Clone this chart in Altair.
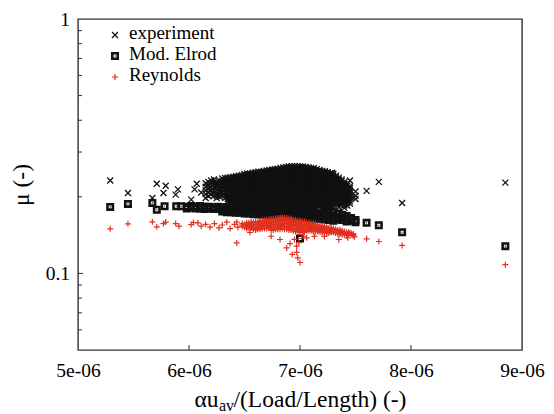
import altair as alt
import pandas as pd

# ---------------- data (x in units of 1e-6, mu dimensionless) ----------------
# experiment: isolated points
EXP_X = [5.29, 5.45, 5.71, 5.79, 5.77, 5.67, 5.88, 5.90, 6.02, 6.05, 6.07, 6.11,
         7.29, 7.40, 7.38, 7.42, 7.45, 7.47, 7.50, 7.60, 7.71, 7.92, 8.85]
EXP_MU = [0.232, 0.207, 0.225, 0.221, 0.207, 0.198, 0.204, 0.214, 0.195, 0.214, 0.225, 0.208,
          0.248, 0.220, 0.212, 0.205, 0.232, 0.199, 0.196, 0.211, 0.229, 0.189, 0.2275]
# experiment: dense cloud, read column by column
EXP_COL_X = [6.15, 6.20, 6.25, 6.30, 6.35, 6.40, 6.45, 6.50, 6.55, 6.60, 6.65, 6.70, 6.75, 6.80,
             6.85, 6.90, 6.95, 7.00, 7.05, 7.10, 7.15, 7.20, 7.25, 7.30, 7.35, 7.40, 7.45, 7.50]
EXP_COL_MU = [
    [0.226, 0.219, 0.212, 0.205, 0.198],
    [0.232, 0.225, 0.218, 0.211, 0.204],
    [0.228, 0.224, 0.220, 0.213, 0.206, 0.202, 0.198],
    [0.236, 0.231, 0.226, 0.220, 0.214, 0.208, 0.202],
    [0.238, 0.234, 0.230, 0.226, 0.222, 0.217, 0.212, 0.206, 0.200],
    [0.240, 0.236, 0.232, 0.228, 0.224, 0.220, 0.216, 0.212, 0.208, 0.204, 0.200, 0.196, 0.192],
    [0.242, 0.238, 0.234, 0.230, 0.226, 0.222, 0.218, 0.214, 0.210, 0.206, 0.202, 0.198, 0.194,
     0.190, 0.186],
    [0.246, 0.242, 0.238, 0.234, 0.230, 0.226, 0.222, 0.218, 0.214, 0.210, 0.206, 0.202, 0.198,
     0.194, 0.190, 0.186],
    [0.247, 0.243, 0.239, 0.235, 0.231, 0.227, 0.223, 0.219, 0.215, 0.211, 0.207, 0.203, 0.199,
     0.195, 0.191, 0.187, 0.183],
    [0.250, 0.246, 0.242, 0.238, 0.234, 0.230, 0.226, 0.222, 0.218, 0.214, 0.210, 0.206, 0.202,
     0.198, 0.194, 0.190, 0.186, 0.182],
    [0.251, 0.247, 0.243, 0.239, 0.235, 0.231, 0.227, 0.223, 0.219, 0.215, 0.211, 0.207, 0.203,
     0.199, 0.195, 0.191, 0.187, 0.183, 0.180],
    [0.254, 0.250, 0.246, 0.242, 0.238, 0.234, 0.230, 0.226, 0.222, 0.218, 0.214, 0.210, 0.206,
     0.202, 0.198, 0.194, 0.190, 0.186, 0.182, 0.179],
    [0.256, 0.252, 0.248, 0.244, 0.240, 0.236, 0.232, 0.228, 0.224, 0.220, 0.216, 0.212, 0.208,
     0.204, 0.200, 0.196, 0.192, 0.188, 0.184, 0.180],
    [0.258, 0.254, 0.250, 0.246, 0.242, 0.238, 0.234, 0.230, 0.226, 0.222, 0.218, 0.214, 0.210,
     0.206, 0.202, 0.198, 0.194, 0.190, 0.186, 0.182, 0.178],
    [0.261, 0.257, 0.253, 0.249, 0.245, 0.241, 0.237, 0.233, 0.229, 0.225, 0.221, 0.217, 0.213,
     0.209, 0.205, 0.201, 0.197, 0.193, 0.189, 0.185, 0.181, 0.177],
    [0.263, 0.259, 0.255, 0.251, 0.247, 0.243, 0.239, 0.235, 0.231, 0.227, 0.223, 0.219, 0.215,
     0.211, 0.207, 0.203, 0.199, 0.195, 0.191, 0.187, 0.183, 0.179],
    [0.264, 0.260, 0.256, 0.252, 0.248, 0.244, 0.240, 0.236, 0.232, 0.228, 0.224, 0.220, 0.216,
     0.212, 0.208, 0.204, 0.200, 0.196, 0.192, 0.188, 0.184, 0.180, 0.176],
    [0.263, 0.259, 0.255, 0.251, 0.247, 0.243, 0.239, 0.235, 0.231, 0.227, 0.223, 0.219, 0.215,
     0.211, 0.207, 0.203, 0.199, 0.195, 0.191, 0.187, 0.183, 0.179, 0.175],
    [0.262, 0.258, 0.254, 0.250, 0.246, 0.242, 0.238, 0.234, 0.230, 0.226, 0.222, 0.218, 0.214,
     0.210, 0.206, 0.202, 0.198, 0.194, 0.190, 0.186, 0.182, 0.178],
    [0.260, 0.256, 0.252, 0.248, 0.244, 0.240, 0.236, 0.232, 0.228, 0.224, 0.220, 0.216, 0.212,
     0.208, 0.204, 0.200, 0.196, 0.192, 0.188, 0.184, 0.180, 0.177],
    [0.257, 0.253, 0.249, 0.245, 0.241, 0.237, 0.233, 0.229, 0.225, 0.221, 0.217, 0.213, 0.209,
     0.205, 0.201, 0.197, 0.193, 0.189, 0.185, 0.181],
    [0.253, 0.249, 0.245, 0.241, 0.237, 0.233, 0.229, 0.225, 0.221, 0.217, 0.213, 0.209, 0.205,
     0.201, 0.197, 0.193, 0.189, 0.185, 0.181],
    [0.250, 0.246, 0.242, 0.238, 0.234, 0.230, 0.226, 0.222, 0.218, 0.214, 0.210, 0.206, 0.202,
     0.198, 0.194, 0.190, 0.186, 0.183, 0.179],
    [0.246, 0.242, 0.238, 0.234, 0.230, 0.226, 0.222, 0.218, 0.214, 0.210, 0.206, 0.202, 0.198,
     0.194, 0.190, 0.186, 0.182],
    [0.238, 0.234, 0.230, 0.226, 0.222, 0.218, 0.214, 0.210, 0.206, 0.202, 0.198, 0.194, 0.190,
     0.186, 0.182],
    [0.229, 0.225, 0.221, 0.217, 0.213, 0.209, 0.205, 0.201, 0.197, 0.193, 0.189, 0.185, 0.181],
    [0.220, 0.216, 0.212, 0.208, 0.204, 0.200, 0.196, 0.192, 0.188],
    [0.210, 0.202],
]
# experiment: dense cloud, points read between the columns above
EXP_COL2_X = [6.175, 6.225, 6.275, 6.325, 6.375, 6.425, 6.475, 6.525, 6.575, 6.625, 6.675,
              6.725, 6.775, 6.825, 6.875, 6.925, 6.975, 7.025, 7.075, 7.125, 7.175, 7.225,
              7.275, 7.325, 7.375, 7.425]
EXP_COL2_MU = [
    [0.229, 0.222, 0.215, 0.208, 0.201],
    [0.234, 0.229, 0.224, 0.218, 0.212, 0.207, 0.202],
    [0.232, 0.227, 0.222, 0.216, 0.210, 0.205, 0.200],
    [0.237, 0.232, 0.228, 0.223, 0.218, 0.213, 0.208, 0.203, 0.198],
    [0.239, 0.235, 0.231, 0.227, 0.223, 0.219, 0.215, 0.210, 0.206, 0.202, 0.198],
    [0.241, 0.237, 0.233, 0.229, 0.225, 0.221, 0.217, 0.213, 0.209, 0.205, 0.201, 0.197, 0.193,
     0.189],
    [0.244, 0.240, 0.236, 0.232, 0.228, 0.224, 0.220, 0.216, 0.212, 0.208, 0.204, 0.200, 0.196,
     0.192, 0.188],
    [0.247, 0.243, 0.239, 0.235, 0.231, 0.227, 0.223, 0.219, 0.215, 0.211, 0.207, 0.203, 0.199,
     0.195, 0.191, 0.187],
    [0.249, 0.245, 0.241, 0.237, 0.233, 0.229, 0.225, 0.221, 0.217, 0.213, 0.209, 0.205, 0.201,
     0.197, 0.193, 0.189, 0.185],
    [0.251, 0.247, 0.243, 0.239, 0.235, 0.231, 0.227, 0.223, 0.219, 0.215, 0.211, 0.207, 0.203,
     0.199, 0.195, 0.191, 0.187, 0.183],
    [0.253, 0.249, 0.245, 0.241, 0.237, 0.233, 0.229, 0.225, 0.221, 0.217, 0.213, 0.209, 0.205,
     0.201, 0.197, 0.193, 0.189, 0.185, 0.181],
    [0.255, 0.251, 0.247, 0.243, 0.239, 0.235, 0.231, 0.227, 0.223, 0.219, 0.215, 0.211, 0.207,
     0.203, 0.199, 0.195, 0.191, 0.187, 0.183, 0.180],
    [0.257, 0.253, 0.249, 0.245, 0.241, 0.237, 0.233, 0.229, 0.225, 0.221, 0.217, 0.213, 0.209,
     0.205, 0.201, 0.197, 0.193, 0.189, 0.185, 0.181],
    [0.260, 0.256, 0.252, 0.248, 0.244, 0.240, 0.236, 0.232, 0.228, 0.224, 0.220, 0.216, 0.212,
     0.208, 0.204, 0.200, 0.196, 0.192, 0.188, 0.184, 0.180],
    [0.262, 0.258, 0.254, 0.250, 0.246, 0.242, 0.238, 0.234, 0.230, 0.226, 0.222, 0.218, 0.214,
     0.210, 0.206, 0.202, 0.198, 0.194, 0.190, 0.186, 0.182, 0.178],
    [0.264, 0.260, 0.256, 0.252, 0.248, 0.244, 0.240, 0.236, 0.232, 0.228, 0.224, 0.220, 0.216,
     0.212, 0.208, 0.204, 0.200, 0.196, 0.192, 0.188, 0.184, 0.181, 0.178],
    [0.264, 0.260, 0.256, 0.252, 0.248, 0.244, 0.240, 0.236, 0.232, 0.228, 0.224, 0.220, 0.216,
     0.212, 0.208, 0.204, 0.200, 0.196, 0.192, 0.188, 0.184, 0.180, 0.177],
    [0.263, 0.259, 0.255, 0.251, 0.247, 0.243, 0.239, 0.235, 0.231, 0.227, 0.223, 0.219, 0.215,
     0.211, 0.207, 0.203, 0.199, 0.195, 0.191, 0.187, 0.183, 0.180, 0.177],
    [0.261, 0.257, 0.253, 0.249, 0.245, 0.241, 0.237, 0.233, 0.229, 0.225, 0.221, 0.217, 0.213,
     0.209, 0.205, 0.201, 0.197, 0.193, 0.189, 0.185, 0.181, 0.178],
    [0.259, 0.255, 0.251, 0.247, 0.243, 0.239, 0.235, 0.231, 0.227, 0.223, 0.219, 0.215, 0.211,
     0.207, 0.203, 0.199, 0.195, 0.191, 0.187, 0.184, 0.181],
    [0.255, 0.251, 0.247, 0.243, 0.239, 0.235, 0.231, 0.227, 0.223, 0.219, 0.215, 0.211, 0.207,
     0.203, 0.199, 0.195, 0.191, 0.187, 0.183],
    [0.252, 0.248, 0.244, 0.240, 0.236, 0.232, 0.228, 0.224, 0.220, 0.216, 0.212, 0.208, 0.204,
     0.200, 0.196, 0.192, 0.188, 0.184, 0.180],
    [0.248, 0.244, 0.240, 0.236, 0.232, 0.228, 0.224, 0.220, 0.216, 0.212, 0.208, 0.204, 0.200,
     0.196, 0.192, 0.188, 0.184],
    [0.242, 0.238, 0.234, 0.230, 0.226, 0.222, 0.218, 0.214, 0.210, 0.206, 0.202, 0.198, 0.194,
     0.190, 0.186],
    [0.234, 0.230, 0.226, 0.222, 0.218, 0.214, 0.210, 0.206, 0.202, 0.198, 0.194, 0.190, 0.186],
    [0.225, 0.221, 0.217, 0.213, 0.209, 0.205, 0.201, 0.197, 0.193, 0.189, 0.185],
]
# experiment: lower edge of the cloud where it runs into the Elrod band
EXP_COL3_X = [6.35, 6.375, 6.40, 6.425, 6.45, 6.475, 6.50, 6.525, 6.55, 6.575, 6.60, 6.625,
              6.65, 6.675, 6.70, 6.725, 6.75, 6.775, 6.80, 6.825, 6.85, 6.875, 6.90, 6.925, 6.95]
EXP_COL3_MU = [
    [0.196, 0.192, 0.188], [0.194, 0.190, 0.186], [0.188, 0.184], [0.186, 0.182],
    [0.183, 0.180], [0.184, 0.180], [0.182, 0.179], [0.183, 0.179], [0.180, 0.177],
    [0.181, 0.177], [0.179, 0.176], [0.180, 0.176], [0.177], [0.178, 0.175], [0.176],
    [0.177, 0.174], [0.177, 0.174], [0.178, 0.174], [0.175], [0.177, 0.174], [0.174],
    [0.175], [0.176], [0.175], [0.173],
]

# Mod. Elrod: isolated points
ELR_X = [5.29, 5.45, 5.67, 5.71, 5.78, 5.885, 5.93, 7.00, 7.60, 7.71, 7.92, 8.85]
ELR_MU = [0.1826, 0.1876, 0.1893, 0.178, 0.1836, 0.1836, 0.1836, 0.1371, 0.158, 0.1547, 0.1452, 0.128]
# Mod. Elrod: dense band
ELR_COL_X = [5.98, 6.02, 6.06, 6.10, 6.14, 6.18, 6.22, 6.26, 6.30, 6.34, 6.38, 6.42, 6.46,
             6.50, 6.54, 6.58, 6.62, 6.66, 6.70, 6.74, 6.78, 6.82, 6.86, 6.90, 6.94, 6.98,
             7.02, 7.06, 7.10, 7.14, 7.18, 7.22, 7.26, 7.30, 7.34, 7.38, 7.42, 7.46, 7.50]
ELR_COL_MU = [
    [0.183, 0.180], [0.184, 0.181], [0.183, 0.180], [0.184, 0.180], [0.183, 0.179],
    [0.183, 0.180], [0.182, 0.179], [0.183, 0.179], [0.182, 0.178, 0.175],
    [0.182, 0.178, 0.174], [0.181, 0.177, 0.174], [0.181, 0.177, 0.173],
    [0.181, 0.177, 0.173], [0.180, 0.176, 0.172], [0.180, 0.176, 0.172],
    [0.179, 0.175, 0.171], [0.179, 0.175, 0.171], [0.178, 0.174, 0.170],
    [0.178, 0.174, 0.170], [0.177, 0.173, 0.169], [0.177, 0.173, 0.169],
    [0.176, 0.172, 0.168], [0.176, 0.172, 0.168], [0.175, 0.171, 0.167],
    [0.175, 0.171, 0.167], [0.174, 0.170, 0.166], [0.174, 0.170, 0.166],
    [0.173, 0.169, 0.165], [0.173, 0.169, 0.165], [0.172, 0.168, 0.164],
    [0.172, 0.168, 0.164], [0.176, 0.171, 0.167, 0.163], [0.175, 0.170, 0.166, 0.162],
    [0.174, 0.169, 0.165, 0.161], [0.172, 0.167, 0.163], [0.170, 0.166, 0.162],
    [0.168, 0.164, 0.160], [0.165, 0.161], [0.162, 0.159],
]

# Reynolds: isolated points
REY_X = [5.29, 5.45, 5.67, 5.71, 5.77, 5.79, 5.88, 5.91, 6.02, 6.04, 6.11,
         6.08, 6.15, 6.19, 6.23, 6.27, 6.30, 6.34, 6.37, 6.41, 6.44, 6.43,
         7.13, 7.22, 7.35, 7.43, 7.49, 7.60, 7.71, 7.92, 8.85,
         6.43, 6.55, 6.74, 6.82, 6.88, 6.97, 6.93, 6.98, 7.00, 6.97, 6.91, 6.95, 7.03, 6.99, 7.06]
REY_MU = [0.1497, 0.1566, 0.1595, 0.1525, 0.157, 0.1592, 0.157, 0.1533, 0.1556, 0.1585, 0.1533,
          0.158, 0.156, 0.152, 0.157, 0.151, 0.155, 0.159, 0.150, 0.156, 0.152, 0.159,
          0.1397, 0.1397, 0.1359, 0.138, 0.1393, 0.1368, 0.1335, 0.1288, 0.1082,
          0.1318, 0.1448, 0.140, 0.1359, 0.126, 0.128, 0.1187, 0.1152, 0.1104, 0.121, 0.131,
          0.136, 0.140, 0.132, 0.138]
# Reynolds: dense band
REY_COL_X = [6.48, 6.52, 6.56, 6.60, 6.64, 6.68, 6.72, 6.76, 6.80, 6.84, 6.88, 6.92, 6.96,
             7.00, 7.04, 7.08, 7.12, 7.16, 7.20, 7.24, 7.28, 7.32, 7.36, 7.40, 7.44, 7.48]
REY_COL_MU = [
    [0.157, 0.155, 0.153], [0.158, 0.156, 0.154, 0.152, 0.150], [0.159, 0.157, 0.155, 0.153, 0.151],
    [0.160, 0.158, 0.156, 0.154, 0.152, 0.150, 0.148],
    [0.161, 0.159, 0.157, 0.155, 0.153, 0.151, 0.149],
    [0.162, 0.160, 0.158, 0.156, 0.154, 0.152, 0.150],
    [0.163, 0.161, 0.159, 0.157, 0.155, 0.153, 0.151],
    [0.164, 0.162, 0.160, 0.158, 0.156, 0.154, 0.152, 0.150, 0.148],
    [0.165, 0.163, 0.161, 0.159, 0.157, 0.155, 0.153, 0.151, 0.149],
    [0.166, 0.164, 0.162, 0.160, 0.158, 0.156, 0.154, 0.152, 0.150],
    [0.165, 0.163, 0.161, 0.159, 0.157, 0.155, 0.153, 0.151, 0.149],
    [0.164, 0.162, 0.160, 0.158, 0.156, 0.154, 0.152, 0.150, 0.148],
    [0.162, 0.160, 0.158, 0.156, 0.154, 0.152, 0.150, 0.148, 0.146],
    [0.161, 0.159, 0.157, 0.155, 0.153, 0.151, 0.149, 0.147, 0.145],
    [0.160, 0.158, 0.156, 0.154, 0.152, 0.150, 0.148, 0.146, 0.145],
    [0.158, 0.156, 0.155, 0.153, 0.151, 0.149, 0.147],
    [0.157, 0.155, 0.153, 0.151, 0.150, 0.148, 0.146],
    [0.155, 0.153, 0.152, 0.150, 0.149, 0.147, 0.146],
    [0.154, 0.152, 0.151, 0.149, 0.148, 0.146, 0.145],
    [0.152, 0.150, 0.149, 0.147, 0.146, 0.145, 0.144],
    [0.151, 0.149, 0.148, 0.146, 0.145], [0.149, 0.148, 0.147, 0.145, 0.144],
    [0.148, 0.146, 0.145, 0.144, 0.143], [0.146, 0.145, 0.144, 0.143, 0.142],
    [0.145, 0.144, 0.143], [0.143, 0.142, 0.141],
]
# Reynolds: dense band, points read between the columns above
REY_COL2_X = [6.50, 6.54, 6.58, 6.62, 6.66, 6.70, 6.74, 6.78, 6.82, 6.86, 6.90, 6.94, 6.98,
              7.02, 7.06, 7.10, 7.14, 7.18, 7.22, 7.26, 7.30, 7.34, 7.38, 7.42, 7.46]
REY_COL2_MU = [
    [0.156, 0.152], [0.158, 0.154, 0.150], [0.159, 0.155, 0.151, 0.149],
    [0.160, 0.156, 0.152, 0.149], [0.161, 0.157, 0.153, 0.150], [0.162, 0.158, 0.154, 0.150],
    [0.163, 0.159, 0.155, 0.151, 0.148], [0.164, 0.160, 0.156, 0.152, 0.149],
    [0.165, 0.161, 0.157, 0.153, 0.149], [0.165, 0.161, 0.157, 0.153, 0.149],
    [0.164, 0.160, 0.156, 0.152, 0.148], [0.162, 0.158, 0.154, 0.150, 0.147],
    [0.161, 0.157, 0.153, 0.149, 0.146], [0.160, 0.156, 0.152, 0.148, 0.145],
    [0.158, 0.154, 0.150, 0.147], [0.157, 0.154, 0.150, 0.147], [0.156, 0.152, 0.149, 0.146],
    [0.154, 0.151, 0.148, 0.145], [0.153, 0.150, 0.147, 0.145], [0.151, 0.148, 0.146, 0.144],
    [0.150, 0.147, 0.145], [0.148, 0.146, 0.143], [0.147, 0.145, 0.142],
    [0.145, 0.143, 0.141], [0.144, 0.142],
]

X_TICKS = [5e-6, 6e-6, 7e-6, 8e-6, 9e-6]
Y_LABELS = [0.1, 1]
Y_MINOR = [0.06, 0.07, 0.08, 0.09, 0.2, 0.3, 0.4, 0.5, 0.6, 0.7, 0.8, 0.9]
LEGEND = ["experiment", "Mod. Elrod", "Reynolds"]


def table(xs, mus, *cols):
    rows = [{"x": a * 1e-6, "mu": b} for a, b in zip(xs, mus)]
    for col_x, col_mu in cols:
        for a, col in zip(col_x, col_mu):
            rows += [{"x": a * 1e-6, "mu": b} for b in col]
    return pd.DataFrame(rows)


exp_df = table(EXP_X, EXP_MU, (EXP_COL_X, EXP_COL_MU), (EXP_COL2_X, EXP_COL2_MU),
               (EXP_COL3_X, EXP_COL3_MU))
elr_df = table(ELR_X, ELR_MU, (ELR_COL_X, ELR_COL_MU))
rey_df = table(REY_X, REY_MU, (REY_COL_X, REY_COL_MU), (REY_COL2_X, REY_COL2_MU))

# ---------------- styling ----------------
W, H = 444, 331
FONT = "Liberation Serif, Times New Roman, Times, serif"
RED = "#e0301e"
BLK = "#111111"
CROSS_X = "M-1,-1L1,1M-1,1L1,-1"
PLUS = "M-1,0L1,0M0,-1L0,1"
BOXDOT = ("M-1,-1L1,-1L1,1L-1,1Z"
          "M-0.36,-0.36L-0.36,0.36L0.36,0.36L0.36,-0.36Z"
          "M-0.14,-0.14L0.14,-0.14L0.14,0.14L-0.14,0.14Z")

xscale = alt.Scale(domain=[5e-6, 9e-6], nice=False, zero=False)
yscale = alt.Scale(type="log", domain=[0.05, 1], nice=False)

xaxis = alt.Axis(values=X_TICKS,
                 labelExpr="replace(format(datum.value, '.0e'), 'e-', 'e-0')",
                 ticks=False, tickSize=0, domain=False, grid=False,
                 labelFont=FONT, labelFontSize=19.5, labelColor="black",
                 labelPadding=11, labelFlush=False, labelOverlap=False, title=None)
yaxis = alt.Axis(values=Y_LABELS, format="~g", ticks=False, tickSize=0, domain=False,
                 grid=False, labelFont=FONT, labelFontSize=19.5, labelColor="black",
                 labelPadding=8.5, labelFlush=False, labelOverlap=False, title=None)

X = alt.X("x:Q", scale=xscale, axis=xaxis)
Y = alt.Y("mu:Q", scale=yscale, axis=yaxis)

exp_layer = alt.Chart(exp_df).mark_point(
    shape=CROSS_X, filled=False, size=36, stroke=BLK, strokeWidth=1.3, opacity=1
).encode(x=X, y=Y)

elr_layer = alt.Chart(elr_df).mark_point(
    shape=BOXDOT, filled=True, size=64, fill=BLK, strokeWidth=0, opacity=1
).encode(x=X, y=Y)

rey_layer = alt.Chart(rey_df).mark_point(
    shape=PLUS, filled=False, size=36, stroke=RED, strokeWidth=1.2, opacity=1
).encode(x=X, y=Y)

xt_df = pd.DataFrame({"x": X_TICKS[1:-1]})
xticks = alt.Chart(xt_df).mark_rule(color="#333", strokeWidth=1).encode(
    x=X, y=alt.value(H), y2=alt.value(H - 5))

ymaj_df = pd.DataFrame({"mu": [0.1]})
ymaj = alt.Chart(ymaj_df).mark_rule(color="#333", strokeWidth=1).encode(
    y=Y, x=alt.value(0), x2=alt.value(5))
ymin_df = pd.DataFrame({"mu": Y_MINOR})
ymin = alt.Chart(ymin_df).mark_rule(color="#333", strokeWidth=1).encode(
    y=Y, x=alt.value(0), x2=alt.value(4))

# legend (inside plot, top-left)
leg_df = pd.DataFrame({"label": LEGEND})
leg_x = alt.Chart(leg_df.iloc[[0]]).mark_point(
    shape=CROSS_X, filled=False, size=36, stroke=BLK, strokeWidth=1.3, opacity=1
).encode(x=alt.value(37), y=alt.value(16))
leg_e = alt.Chart(leg_df.iloc[[1]]).mark_point(
    shape=BOXDOT, filled=True, size=64, fill=BLK, strokeWidth=0, opacity=1
).encode(x=alt.value(37), y=alt.value(37))
leg_r = alt.Chart(leg_df.iloc[[2]]).mark_point(
    shape=PLUS, filled=False, size=36, stroke=RED, strokeWidth=1.2, opacity=1
).encode(x=alt.value(37), y=alt.value(58))
leg_text = [
    alt.Chart(leg_df.iloc[[i]]).mark_text(
        font=FONT, fontSize=19, align="left", baseline="alphabetic", color="black"
    ).encode(text="label:N", x=alt.value(51), y=alt.value(yy))
    for i, yy in enumerate([20, 41, 62])
]

# axis titles
t_df = pd.DataFrame({"t": ["αu", "av", "/(Load/Length) (-)", "μ (-)"]})
xt1 = alt.Chart(t_df.iloc[[0]]).mark_text(
    font=FONT, fontSize=23.5, align="right", baseline="alphabetic", color="black"
).encode(text="t:N", x=alt.value(140.5), y=alt.value(387.5))
xt2 = alt.Chart(t_df.iloc[[1]]).mark_text(
    font=FONT, fontSize=16, align="left", baseline="alphabetic", color="black"
).encode(text="t:N", x=alt.value(141), y=alt.value(391.5))
xt3 = alt.Chart(t_df.iloc[[2]]).mark_text(
    font=FONT, fontSize=23.5, align="left", baseline="alphabetic", color="black"
).encode(text="t:N", x=alt.value(155.5), y=alt.value(387.5))
yt = alt.Chart(t_df.iloc[[3]]).mark_text(
    font=FONT, fontSize=23.5, align="center", baseline="middle", angle=270, color="black"
).encode(text="t:N", x=alt.value(-56), y=alt.value(166))

chart = alt.layer(
    exp_layer, elr_layer, rey_layer, xticks, ymaj, ymin,
    leg_x, leg_e, leg_r, *leg_text, xt1, xt2, xt3, yt
).properties(
    width=W, height=H,
    autosize=alt.AutoSizeParams(type="none"),
    padding={"left": 78, "top": 19, "right": 32, "bottom": 64},
    background="white",
).configure_view(
    stroke="#333", strokeWidth=1.4
)

chart.save("out.html", embed_options={"renderer": "svg", "actions": False})
